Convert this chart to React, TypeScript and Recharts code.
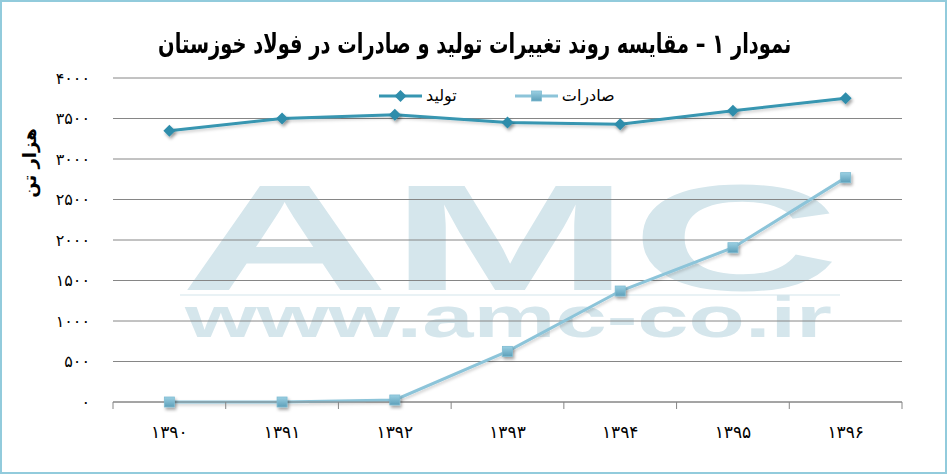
import { LineChart, Line, XAxis, YAxis, CartesianGrid, Legend } from "recharts";

const years = ["۱۳۹۰", "۱۳۹۱", "۱۳۹۲", "۱۳۹۳", "۱۳۹۴", "۱۳۹۵", "۱۳۹۶"];
const production = [3350, 3500, 3545, 3450, 3430, 3595, 3750];
const exportsVals = [0, 0, 25, 625, 1370, 1905, 2770];
const yTicks = [0, 500, 1000, 1500, 2000, 2500, 3000, 3500, 4000];

const title = "نمودار ۱ – مقایسه روند تغییرات تولید و صادرات در فولاد خوزستان";
const yTitle = "هزار تن";
const prodName = "تولید";
const expName = "صادرات";

const FONT = "'DejaVu Sans', sans-serif";
const PROD_COLOR = "#3796b1";
const EXP_COLOR = "#8cc4d9";
const GRID = "#868686";

const toFa = (n: number | string) =>
  String(n).replace(/\d/g, (d) => "۰۱۲۳۴۵۶۷۸۹"[Number(d)]);

const data = years.map((year, i) => ({
  year,
  pos: i + 0.5,
  production: production[i],
  exports: exportsVals[i],
}));

// boundaries (integers) get a tick mark, centres (halves) get the year label
const xTicks: number[] = [];
for (let i = 0; i <= years.length * 2; i++) xTicks.push(i / 2);

function XTick(props: any) {
  const { x, y, payload } = props;
  const v = payload.value as number;
  if (Number.isInteger(v)) {
    return <line x1={x} x2={x} y1={y} y2={y + 7} stroke={GRID} strokeWidth={1} />;
  }
  return (
    <text x={x} y={y + 36} textAnchor="middle" fontSize={17} fill="#000" fontFamily={FONT}>
      {years[Math.floor(v)]}
    </text>
  );
}

function Diamond(props: any) {
  const { cx, cy } = props;
  if (cx == null || cy == null) return null;
  const r = 6;
  return (
    <polygon
      points={`${cx},${cy - r} ${cx + r},${cy} ${cx},${cy + r} ${cx - r},${cy}`}
      fill="#2f8dab"
      filter="url(#dotShadow)"
    />
  );
}

function Square(props: any) {
  const { cx, cy } = props;
  if (cx == null || cy == null) return null;
  return (
    <rect
      x={cx - 5}
      y={cy - 5}
      width={10}
      height={10}
      fill="url(#sqGrad)"
      stroke="#7fbcd2"
      strokeWidth={0.8}
      filter="url(#dotShadow)"
    />
  );
}

function LegendBox() {
  const items = [
    { name: prodName, color: PROD_COLOR, marker: "diamond" },
    { name: expName, color: EXP_COLOR, marker: "square" },
  ];
  return (
    <div style={{ display: "flex", alignItems: "center", gap: 58, fontFamily: FONT }}>
      {items.map((it) => (
        <div key={it.name} style={{ display: "flex", alignItems: "center", gap: 4 }}>
          <svg width={43} height={14}>
            <line x1={0} x2={43} y1={7} y2={7} stroke={it.color} strokeWidth={3} />
            {it.marker === "diamond" ? (
              <polygon points="21.5,1 27.5,7 21.5,13 15.5,7" fill="#2f8dab" />
            ) : (
              <rect x={16.5} y={2} width={10} height={10} fill="url(#sqGradL)" stroke="#7fbcd2" strokeWidth={0.8} />
            )}
            <defs>
              <linearGradient id="sqGradL" x1="0" y1="0" x2="0" y2="1">
                <stop offset="0%" stopColor="#9bd0e3" />
                <stop offset="100%" stopColor="#5d9fb9" />
              </linearGradient>
            </defs>
          </svg>
          <span style={{ fontSize: 16, color: "#000", direction: "rtl" }}>{it.name}</span>
        </div>
      ))}
    </div>
  );
}

export default function App() {
  return (
    <div style={{ position: "absolute", left: 0, top: 0, width: 947, height: 474, background: "#fff" }}>
      {/* frame */}
      <div
        style={{
          position: "absolute",
          left: 0,
          top: 0,
          width: 947,
          height: 474,
          boxSizing: "border-box",
          border: "2px solid #92cbdc",
        }}
      />
      {/* watermark + axis title, behind the chart */}
      <svg width={947} height={474} style={{ position: "absolute", left: 0, top: 0 }}>
        <text
          x={180}
          y={290}
          fontSize={151}
          fontWeight={900}
          fontFamily="'Liberation Sans', sans-serif"
          fill="#d5e6ec"
          textLength={660}
          lengthAdjust="spacingAndGlyphs"
        >
          AMC
        </text>
        <rect x={180} y={294} width={660} height={2} fill="#e9f2f5" />
        <text
          x={185}
          y={337}
          fontSize={58}
          fontWeight={700}
          fontFamily="'Liberation Sans', sans-serif"
          fill="#d5e6ec"
          textLength={647}
          lengthAdjust="spacingAndGlyphs"
        >
          www.amc-co.ir
        </text>
        <text
          x={29}
          y={163}
          transform="rotate(-90 29 163)"
          textAnchor="middle"
          dominantBaseline="central"
          fontSize={18}
          fontWeight={700}
          fontFamily={FONT}
          fill="#000"
        >
          {yTitle}
        </text>
      </svg>
      <div
        style={{
          position: "absolute",
          left: 0,
          top: 28,
          width: 950,
          textAlign: "center",
          fontFamily: FONT,
          color: "#000",
        }}
      >
        <span
          style={{
            display: "inline-block",
            fontWeight: 700,
            fontSize: 27,
            direction: "rtl",
            whiteSpace: "nowrap",
            transform: "scaleX(0.72)",
            transformOrigin: "center",
          }}
        >
          {title}
        </span>
      </div>
      <div style={{ position: "absolute", left: 0, top: 0 }}>
        <LineChart width={947} height={474} data={data} margin={{ top: 78, right: 45, left: 0, bottom: 0 }}>
          <defs>
            <filter id="dotShadow" x="-60%" y="-60%" width="220%" height="220%">
              <feDropShadow dx={1.5} dy={2.5} stdDeviation={1.6} floodColor="#000" floodOpacity={0.35} />
            </filter>
            <filter id="lineShadow" x="-5%" y="-20%" width="110%" height="140%">
              <feDropShadow dx={1} dy={2} stdDeviation={1.5} floodColor="#000" floodOpacity={0.18} />
            </filter>
            <linearGradient id="sqGrad" x1="0" y1="0" x2="0" y2="1">
              <stop offset="0%" stopColor="#9bd0e3" />
              <stop offset="100%" stopColor="#5d9fb9" />
            </linearGradient>
          </defs>
          <CartesianGrid vertical={false} stroke={GRID} strokeWidth={1} />
          <XAxis
            dataKey="pos"
            type="number"
            domain={[0, years.length]}
            ticks={xTicks}
            interval={0}
            tickLine={false}
            tickSize={0}
            tickMargin={0}
            axisLine={{ stroke: GRID, strokeWidth: 1 }}
            tick={<XTick />}
            height={72}
          />
          <YAxis
            domain={[0, 4000]}
            ticks={yTicks}
            interval={0}
            width={113}
            axisLine={false}
            tickLine={false}
            tickSize={0}
            tickMargin={23}
            tickFormatter={toFa}
            tick={{ fill: "#000", fontSize: 16, fontFamily: FONT }}
          />
          <Legend
            verticalAlign="middle"
            align="center"
            content={<LegendBox />}
            wrapperStyle={{ position: "absolute", top: 86, left: 379, width: "auto" }}
          />
          <Line
            dataKey="production"
            name={prodName}
            stroke={PROD_COLOR}
            strokeWidth={3}
            filter="url(#lineShadow)"
            dot={<Diamond />}
            isAnimationActive={false}
          />
          <Line
            dataKey="exports"
            name={expName}
            stroke={EXP_COLOR}
            strokeWidth={3}
            filter="url(#lineShadow)"
            dot={<Square />}
            isAnimationActive={false}
          />
        </LineChart>
      </div>
    </div>
  );
}
